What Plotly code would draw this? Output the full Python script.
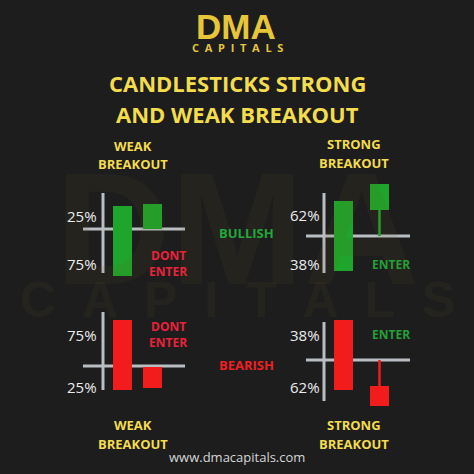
import plotly.graph_objects as go

W = H = 474

# candle data, measured relative to the breakout line (up = positive)
weak_x = [19.5, 49.5]
strong_x = [19.5, 55.5]

bull_weak_open = [-47, 0]
bull_weak_close = [23, 25]

bull_strong_open = [-35, 26]
bull_strong_close = [35, 52]
bull_strong_wick = [0, 26]

bear_weak_open = [46, -1]
bear_weak_close = [-24, -22]

bear_strong_open = [40, -26]
bear_strong_close = [-30, -46]
bear_strong_wick = [0, -26]

# vertical axis line (top, bottom) and horizontal breakout line (left, right)
vline_ext = [[36, -44], [43, -37], [54, -24], [38, -41]]
hline_ext = [[-20, 82], [-18, 86], [-20, 82], [-18, 86]]

bull_weak_labels = ['25%', '75%']
bull_strong_labels = ['62%', '38%']
bear_weak_labels = ['75%', '25%']
bear_strong_labels = ['38%', '62%']

GREEN = '#1ea52b'
RED = '#f21c1c'
GRAY = '#b9bec3'
GOLD = '#f3dc4e'
FONT = 'Open Sans'

# pixel anchor of each panel (vertical line x, breakout line y)
anchors = [(103, 229), (324, 236), (103, 366), (324, 360)]


def px(x):
    return x / W


def py(y):
    return 1 - y / H


fig = go.Figure()

layout_axes = {}
for i, (cx, cy) in enumerate(anchors):
    n = '' if i == 0 else str(i + 1)
    layout_axes['xaxis' + n] = dict(domain=[px(cx - 40), px(cx + 100)], range=[-40, 100],
                                    visible=False, fixedrange=True, anchor='y' + n)
    layout_axes['yaxis' + n] = dict(domain=[py(cy + 60), py(cy - 60)], range=[-60, 60],
                                    visible=False, fixedrange=True, anchor='x' + n)

panels = [
    (weak_x, bull_weak_open, bull_weak_close, GREEN, None),
    (strong_x, bull_strong_open, bull_strong_close, GREEN, bull_strong_wick),
    (weak_x, bear_weak_open, bear_weak_close, RED, None),
    (strong_x, bear_strong_open, bear_strong_close, RED, bear_strong_wick),
]

shapes = []
for i, (xs, op, cl, col, wick) in enumerate(panels):
    n = '' if i == 0 else str(i + 1)
    xr, yr = 'x' + n, 'y' + n
    shapes.append(dict(type='line', xref=xr, yref=yr, x0=0, x1=0,
                       y0=vline_ext[i][1], y1=vline_ext[i][0],
                       line=dict(color=GRAY, width=3), layer='below'))
    shapes.append(dict(type='line', xref=xr, yref=yr, x0=hline_ext[i][0], x1=hline_ext[i][1],
                       y0=0, y1=0, line=dict(color=GRAY, width=3), layer='below'))
    if wick is not None:
        fig.add_trace(go.Scatter(x=[xs[1], xs[1]], y=wick, mode='lines',
                                 line=dict(color=col, width=2.5),
                                 xaxis=xr, yaxis=yr, showlegend=False, hoverinfo='skip'))
    fig.add_trace(go.Bar(x=xs, y=[c - o for o, c in zip(op, cl)], base=op, width=19,
                         marker=dict(color=col, line=dict(width=0)),
                         xaxis=xr, yaxis=yr, showlegend=False, hoverinfo='skip'))

ann = []


def text(s, x, y, size, color, bold=True, family=FONT, opacity=1):
    ann.append(dict(text=s, x=px(x), y=py(y), xref='paper', yref='paper',
                    showarrow=False, xanchor='center', yanchor='middle', opacity=opacity,
                    font=dict(family=family, size=size, color=color,
                              weight='bold' if bold else 'normal')))


# faint watermark
text('DMA', 237, 228, 160, '#6b5a1c', opacity=0.10, family='Liberation Sans')
text('C  A  P  I  T  A  L  S', 237, 300, 50, '#6b5a1c', opacity=0.10, family='Liberation Sans')

# logo and title
text('DMA', 236, 26, 35, '#e8c63a', family='Liberation Sans')
text('C  A  P  I  T  A  L  S', 237, 47, 11, '#e3c440')
text('CANDLESTICKS STRONG', 237, 83, 22, GOLD)
text('AND WEAK BREAKOUT', 237, 114, 22, GOLD)

# panel headings
text('WEAK', 133, 146, 13, GOLD)
text('BREAKOUT', 133, 164, 13, GOLD)
text('STRONG', 354, 144, 13, GOLD)
text('BREAKOUT', 354, 163, 13, GOLD)
text('WEAK', 133, 425, 13, GOLD)
text('BREAKOUT', 133, 444, 13, GOLD)
text('STRONG', 354, 425, 13, GOLD)
text('BREAKOUT', 354, 444, 13, GOLD)

# level labels
text(bull_weak_labels[0], 82, 216, 15, '#ececec', bold=False)
text(bull_weak_labels[1], 82, 264, 15, '#ececec', bold=False)
text(bull_strong_labels[0], 305, 215, 15, '#ececec', bold=False)
text(bull_strong_labels[1], 305, 264, 15, '#ececec', bold=False)
text(bear_weak_labels[0], 82, 335, 15, '#ececec', bold=False)
text(bear_weak_labels[1], 82, 387, 15, '#ececec', bold=False)
text(bear_strong_labels[0], 305, 335, 15, '#ececec', bold=False)
text(bear_strong_labels[1], 305, 387, 15, '#ececec', bold=False)

# signals
text('DONT', 168, 256, 12, '#e8233a')
text('ENTER', 168, 271, 12, '#e8233a')
text('ENTER', 391, 264, 12, '#24a038')
text('DONT', 168, 326, 12, '#e8233a')
text('ENTER', 168, 342, 12, '#e8233a')
text('ENTER', 391, 334, 12, '#24a038')

text('BULLISH', 246, 233, 13, '#22a83a')
text('BEARISH', 246, 365, 13, '#ee2020')

text('www.dmacapitals.com', 237, 457, 13, '#d6d6d6', bold=False)

fig.update_layout(
    width=W, height=H,
    margin=dict(l=0, r=0, t=0, b=0),
    paper_bgcolor='#1d1d1e',
    plot_bgcolor='rgba(0,0,0,0)',
    barmode='overlay',
    shapes=shapes,
    annotations=ann,
    **layout_axes
)

fig.write_html('out.html', config={'displayModeBar': False},
               post_script="document.body.style.margin='0';document.body.style.background='#1d1d1e';")
